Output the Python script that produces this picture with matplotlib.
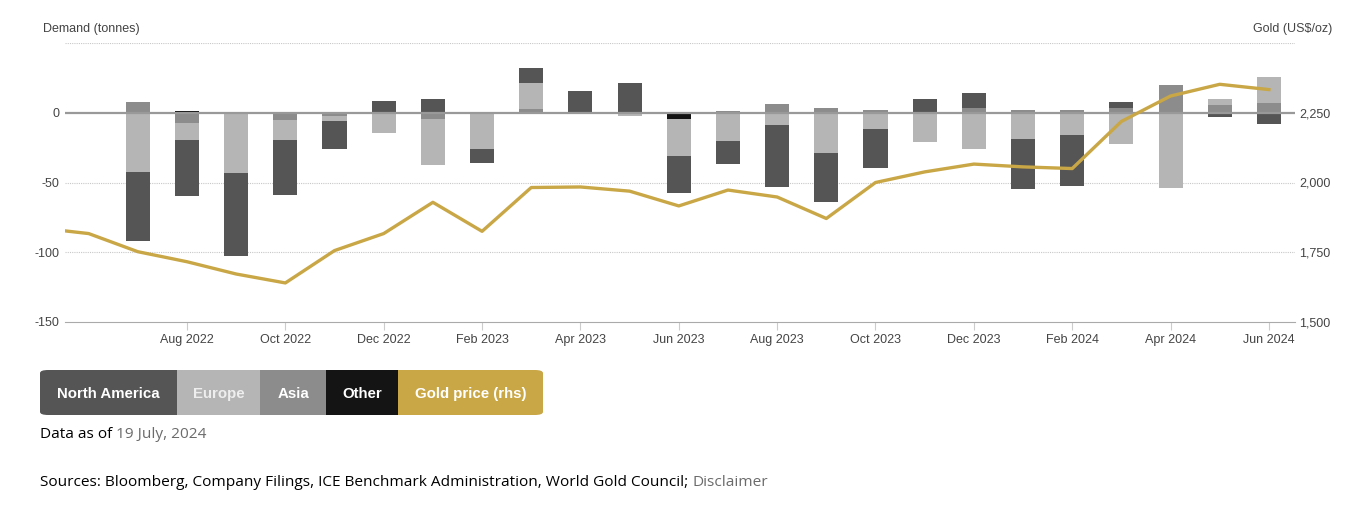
import matplotlib.pyplot as plt
import numpy as np

from matplotlib.patches import FancyBboxPatch, Rectangle

# months from Jul 2022 to Jun 2024 (index 1..24, Jun 2022 = 0)
month_labels = ['Jul 2022', 'Aug 2022', 'Sep 2022', 'Oct 2022', 'Nov 2022', 'Dec 2022',
                'Jan 2023', 'Feb 2023', 'Mar 2023', 'Apr 2023', 'May 2023', 'Jun 2023',
                'Jul 2023', 'Aug 2023', 'Sep 2023', 'Oct 2023', 'Nov 2023', 'Dec 2023',
                'Jan 2024', 'Feb 2024', 'Mar 2024', 'Apr 2024', 'May 2024', 'Jun 2024']
north_america = [-49.2, -40.2, -59.8, -39.5, -20.3, 8.4, 10.0, -9.6, 11.3, 15.6, 21.0, -26.2,
                 -16.3, -44.3, -34.9, -27.3, 10.0, 10.8, -35.9, -36.4, 4.3, 0.0, -3.2, -8.4]
europe = [-42.4, -11.5, -41.8, -14.3, -3.6, -14.8, -32.8, -26.3, 18.6, -1.0, -2.4, -26.3,
          -19.1, -9.1, -29.2, -12.0, -21.0, -25.8, -19.1, -16.3, -22.7, -54.0, 4.8, 18.7]
asia = [7.9, -7.7, 0.0, -5.5, -2.4, 0.0, -4.8, 0.0, 2.4, 0.0, 0.0, 0.7,
        1.6, 6.5, 3.6, 1.7, 0.0, 3.6, 2.2, 2.2, 3.3, 20.0, 5.2, 6.7]
other = [0.0, 1.1, -1.2, 0.0, 0.0, 0.0, 0.0, 0.7, 0.0, 0.0, 0.0, -4.8,
         -1.2, 0.0, 0.0, 0.0, 0.0, 0.0, 0.0, 0.0, 0.0, 0.0, 0.0, 0.0]

# month-end gold price, May 2022 .. Jun 2024 (index -1..24)
gold_price = [1837, 1817, 1752, 1716, 1672, 1640, 1756, 1817, 1929, 1825, 1982, 1984, 1969,
              1916, 1973, 1948, 1871, 2000, 2038, 2066, 2056, 2050, 2219, 2310, 2352, 2333]

tick_idx = list(range(2, 25, 2))
tick_labels = [month_labels[i - 1] for i in tick_idx]

W, H = 1366, 517
C_NA, C_EU, C_AS, C_OT, C_GOLD = '#555555', '#b5b5b5', '#8c8c8c', '#141414', '#c9a746'


def fx(px): return px / W
def fy(py): return 1 - py / H


plt.rcParams['font.family'] = ['Liberation Sans', 'DejaVu Sans']
fig = plt.figure(figsize=(W / 100, H / 100), dpi=100)
ax = fig.add_axes([fx(65), fy(322), fx(1295) - fx(65), fy(43) - fy(322)])

x = np.arange(1, 25)
pos = np.zeros(24)
neg = np.zeros(24)
# first series ends up furthest from zero, so stack from the last one
for vals, col in [(other, C_OT), (asia, C_AS), (europe, C_EU), (north_america, C_NA)]:
    v = np.array(vals)
    base = np.where(v >= 0, pos, neg)
    ax.bar(x, v, bottom=base, width=0.49, color=col, zorder=2)
    pos += np.where(v >= 0, v, 0)
    neg += np.where(v < 0, v, 0)

ax.set_xlim(-0.48, 24.53)
ax.set_ylim(-150, 50)
ax.set_yticks([-150, -100, -50, 0])
ax.set_yticklabels(['-150', '-100', '-50', '0'])
for y in (-100, -50, 50):
    ax.axhline(y, color='#c8c8c8', lw=0.8, ls=(0, (1, 1)), zorder=0)
ax.axhline(0, color='#999999', lw=1.6, zorder=3)

ax.set_xticks(tick_idx)
ax.set_xticklabels(tick_labels, va='baseline')
ax.tick_params(axis='x', length=6, color='#cccccc', colors='#444444', labelsize=9, pad=8.8)
ax.tick_params(axis='y', length=0, colors='#444444', labelsize=9, pad=4)
for s in ('top', 'right', 'left'):
    ax.spines[s].set_visible(False)
ax.spines['bottom'].set_color('#aaaaaa')

ax2 = ax.twinx()
ax2.plot(np.arange(-1, 25), gold_price, color=C_GOLD, lw=2.4, zorder=4)
ax2.set_ylim(1500, 2500)
ax2.set_yticks([1500, 1750, 2000, 2250])
ax2.set_yticklabels(['1,500', '1,750', '2,000', '2,250'])
ax2.tick_params(axis='y', length=0, colors='#444444', labelsize=9, pad=3)
for s in ax2.spines.values():
    s.set_visible(False)

fig.text(fx(43), fy(29), 'Demand (tonnes)', fontsize=9, color='#444444', va='center')
fig.text(fx(1332), fy(29), 'Gold (US$/oz)', fontsize=9, color='#444444', va='center', ha='right')

# legend buttons
y0, y1 = 370, 415
boxes = [('North America', 40, 177, C_NA, 'white'), ('Europe', 177, 260, C_EU, '#eeeeee'),
         ('Asia', 260, 326, C_AS, 'white'), ('Other', 326, 398, C_OT, 'white'),
         ('Gold price (rhs)', 398, 543, C_GOLD, 'white')]
for i, (name, a, b, col, tc) in enumerate(boxes):
    if i in (0, len(boxes) - 1):
        fig.patches.append(FancyBboxPatch((fx(a), fy(y1)), fx(b) - fx(a), fy(y0) - fy(y1),
                                          boxstyle='round,pad=0,rounding_size=0.006',
                                          transform=fig.transFigure, color=col, lw=0))
        sa, sb = (a + 20, b) if i == 0 else (a, b - 20)
    else:
        sa, sb = a, b
    fig.patches.append(Rectangle((fx(sa), fy(y1)), fx(sb) - fx(sa), fy(y0) - fy(y1),
                                 transform=fig.transFigure, color=col, lw=0))
    fig.text(fx((a + b) / 2), fy((y0 + y1) / 2), name, fontsize=10.8, fontweight='bold',
             color=tc, ha='center', va='center_baseline')

renderer = fig.canvas.get_renderer()


def two_tone(px, py, first, second, c2):
    t = fig.text(fx(px), fy(py), first, fontsize=11.1, family='Open Sans', color='black',
                 va='center_baseline')
    w = t.get_window_extent(renderer).width
    fig.text(fx(px + w), fy(py), second, fontsize=11.1, family='Open Sans', color=c2,
             va='center_baseline')


two_tone(40, 432, 'Data as of ', '19 July, 2024', '#6b6b6b')
two_tone(40, 480, 'Sources: Bloomberg, Company Filings, ICE Benchmark Administration, World Gold Council; ',
         'Disclaimer', '#6b6b6b')

fig.savefig('out.png', dpi=100)
